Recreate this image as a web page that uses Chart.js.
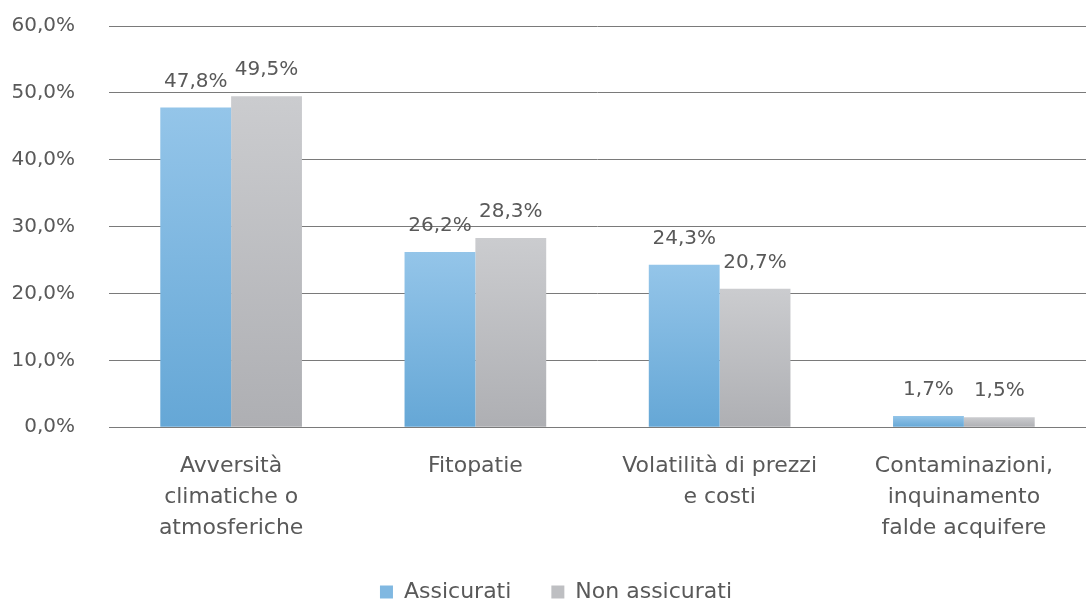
<!DOCTYPE html>
<html>
<head>
<meta charset="utf-8">
<script src="https://cdn.jsdelivr.net/npm/chart.js@4"></script>
<style>
  html, body { margin: 0; padding: 0; background: #ffffff; }
  .chart-wrap { width: 1086px; height: 601px; position: relative; }
</style>
</head>
<body>
<div class="chart-wrap"><canvas class="js-rischi"></canvas></div>
<script>
const categorie = [
  ["Avversità", "climatiche o", "atmosferiche"],
  "Fitopatie",
  ["Volatilità di prezzi", "e costi"],
  ["Contaminazioni,", "inquinamento", "falde acquifere"],
];
const assicurati = [47.8, 26.2, 24.3, 1.7];
const nonAssicurati = [49.5, 28.3, 20.7, 1.5];
const yTicks = [0, 10, 20, 30, 40, 50, 60];

const fmt = function (v) {
  return v.toFixed(1).replace(".", ",") + "%";
};

// gradient per bar, light on top and darker at the base
const barGradient = function (top, bottom) {
  return function (ctx) {
    const chart = ctx.chart;
    const y = chart.scales.y;
    if (!y || ctx.parsed === undefined) return top;
    const yTop = y.getPixelForValue(ctx.parsed.y);
    const yBase = y.getPixelForValue(0);
    if (!isFinite(yTop) || !isFinite(yBase) || yTop === yBase) return top;
    const g = chart.ctx.createLinearGradient(0, yTop, 0, yBase);
    g.addColorStop(0, top);
    g.addColorStop(1, bottom);
    return g;
  };
};

const valueLabels = {
  id: "valueLabels",
  afterLayout(chart) {
    // legend sits a bit right of the canvas centre in the original
    if (chart.legend) {
      chart.legend.left += 13;
      chart.legend.right += 13;
    }
  },
  afterDatasetsDraw(chart) {
    const ctx = chart.ctx;
    ctx.save();
    ctx.font = "20px 'DejaVu Sans'";
    ctx.fillStyle = "#595959";
    ctx.textAlign = "center";
    ctx.textBaseline = "bottom";
    chart.data.datasets.forEach(function (ds, i) {
      chart.getDatasetMeta(i).data.forEach(function (bar, j) {
        ctx.fillText(fmt(ds.data[j]), bar.x, bar.y - 16);
      });
    });
    ctx.restore();
  },
};

const chartRischi = function () {
  const el = document.querySelector(".js-rischi");

  new Chart(el, {
    type: "bar",
    data: {
      labels: categorie,
      datasets: [
        {
          label: "Assicurati",
          data: assicurati,
          backgroundColor: barGradient("#94c5e9", "#65a7d6"),
          categoryPercentage: 0.58,
          barPercentage: 1,
        },
        {
          label: "Non assicurati",
          data: nonAssicurati,
          backgroundColor: barGradient("#cbcccf", "#aeafb3"),
          categoryPercentage: 0.58,
          barPercentage: 1,
        },
      ],
    },
    options: {
      responsive: true,
      maintainAspectRatio: false,
      animation: false,
      layout: { padding: { left: 0, right: 0, top: 26, bottom: -12 } },
      scales: {
        y: {
          min: 0,
          max: 60,
          afterBuildTicks: function (axis) {
            axis.ticks = yTicks.map(function (v) { return { value: v }; });
          },
          afterFit: function (axis) {
            axis.width = 109;
          },
          border: { display: false },
          grid: {
            color: "#7a7a7a",
            lineWidth: 1,
            drawTicks: true,
            tickLength: 30,
            tickColor: "rgba(0,0,0,0)",
          },
          ticks: {
            color: "#595959",
            font: { family: "DejaVu Sans", size: 20 },
            padding: 4,
            callback: function (v) { return fmt(v); },
          },
        },
        x: {
          afterFit: function (axis) {
            axis.height = axis.height - 18;
          },
          border: { display: true, color: "#7a7a7a" },
          grid: { display: false },
          ticks: {
            color: "#595959",
            font: { family: "DejaVu Sans", size: 22, lineHeight: 1.42 },
            padding: 15,
            maxRotation: 0,
            autoSkip: false,
          },
        },
      },
      plugins: {
        legend: {
          position: "bottom",
          labels: {
            color: "#595959",
            font: { family: "DejaVu Sans", size: 22 },
            boxWidth: 13,
            boxHeight: 13,
            padding: 40,
            generateLabels: function (chart) {
              const fills = ["#80b8e1", "#bebfc2"];
              return chart.data.datasets.map(function (ds, i) {
                return {
                  text: ds.label,
                  fillStyle: fills[i],
                  strokeStyle: fills[i],
                  lineWidth: 0,
                  datasetIndex: i,
                  fontColor: "#595959",
                };
              });
            },
          },
        },
        tooltip: { enabled: false },
      },
    },
    plugins: [valueLabels],
  });
};

document.addEventListener("DOMContentLoaded", chartRischi);
</script>
</body>
</html>
